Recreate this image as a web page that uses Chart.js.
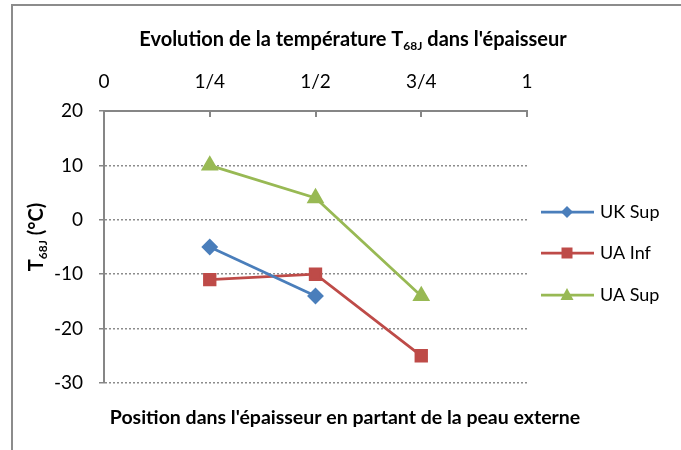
<!DOCTYPE html>
<html>
<head>
<meta charset="utf-8">
<script src="https://cdn.jsdelivr.net/npm/chart.js@4"></script>
<style>
  html, body { margin: 0; padding: 0; background: #fff; }
  #wrap { width: 681px; height: 450px; }
</style>
</head>
<body>
<div id="wrap"><canvas id="tempChart" width="681" height="450"></canvas></div>
<script>
const xTickLabels = ["0", "1/4", "1/2", "3/4", "1"];
const positions = [0.25, 0.5, 0.75];

const seriesNames = ["UK Sup", "UA Inf", "UA Sup"];
const ukSup = [-5, -14, null];
const uaInf = [-11, -10, -25];
const uaSup = [10, 4, -14];

const yTicks = [-30, -20, -10, 0, 10, 20];

const FONT = "Lato, 'Open Sans', sans-serif";

function toPoints(values) {
    const pts = [];
    values.forEach(function (v, i) {
        if (v !== null) pts.push({ x: positions[i], y: v });
    });
    return pts;
}

// text with a subscript part: [["T", false], ["68J", true], ...]
function drawRich(ctx, parts, x, y, size, align) {
    const subSize = Math.round(size * 0.6);
    let total = 0;
    parts.forEach(function (p) {
        ctx.font = "bold " + (p[1] ? subSize : size) + "px " + FONT;
        total += ctx.measureText(p[0]).width;
    });
    let cx = align === "center" ? x - total / 2 : x;
    ctx.textBaseline = "alphabetic";
    ctx.textAlign = "left";
    parts.forEach(function (p) {
        ctx.font = "bold " + (p[1] ? subSize : size) + "px " + FONT;
        ctx.fillText(p[0], cx, p[1] ? y + size * 0.22 : y);
        cx += ctx.measureText(p[0]).width;
    });
}

const decorPlugin = {
    id: "decor",
    afterDraw(chart) {
        const ctx = chart.ctx;
        const area = chart.chartArea;
        const xs = chart.scales.x;
        ctx.save();

        // outer frame (top + left)
        ctx.strokeStyle = "#8c8c8c";
        ctx.lineWidth = 2;
        ctx.beginPath();
        ctx.moveTo(12, 451);
        ctx.lineTo(12, 5);
        ctx.lineTo(681, 5);
        ctx.stroke();

        // inner tick marks on top axis
        ctx.strokeStyle = "#868686";
        ctx.lineWidth = 2;
        xTickLabels.forEach(function (lab, i) {
            const px = Math.round(xs.getPixelForValue(i * 0.25));
            ctx.beginPath();
            ctx.moveTo(px, area.top);
            ctx.lineTo(px, area.top + 6);
            ctx.stroke();
        });

        ctx.fillStyle = "#000";
        // title
        drawRich(ctx, [["Evolution de la température T", false], ["68J", true], [" dans l'épaisseur", false]], 353, 46, 20, "center");

        // x axis title
        ctx.font = "bold 19.5px " + FONT;
        ctx.textAlign = "center";
        ctx.textBaseline = "middle";
        ctx.fillText("Position dans l'épaisseur en partant de la peau externe", 345, 418);

        // y axis title (rotated)
        ctx.save();
        ctx.translate(43, 237);
        ctx.rotate(-Math.PI / 2);
        drawRich(ctx, [["T", false], ["68J", true], [" (°C)", false]], 0, 0, 20, "center");
        ctx.restore();

        // legend
        const rows = [212, 253, 295];
        chart.data.datasets.forEach(function (ds, i) {
            const y = rows[i];
            ctx.strokeStyle = ds.borderColor;
            ctx.lineWidth = 2.75;
            ctx.beginPath();
            ctx.moveTo(541, y);
            ctx.lineTo(594, y);
            ctx.stroke();
            ctx.fillStyle = ds.backgroundColor;
            const cx = 567;
            ctx.beginPath();
            if (ds.pointStyle === "rectRot") {
                ctx.moveTo(cx, y - 6); ctx.lineTo(cx + 6, y); ctx.lineTo(cx, y + 6); ctx.lineTo(cx - 6, y);
            } else if (ds.pointStyle === "rect") {
                ctx.rect(cx - 5.5, y - 5.5, 11, 11);
            } else {
                ctx.moveTo(cx, y - 7); ctx.lineTo(cx + 6.5, y + 5); ctx.lineTo(cx - 6.5, y + 5);
            }
            ctx.closePath();
            ctx.fill();
            ctx.fillStyle = "#000";
            ctx.font = "18px " + FONT;
            ctx.textAlign = "left";
            ctx.textBaseline = "middle";
            ctx.fillText(ds.label, 600, y);
        });

        ctx.restore();
    }
};

const ctx =
document.getElementById(
    "tempChart"
);

const tempChart =
new Chart(ctx, {

    type: "line",

    data: {

        datasets: [{
            label: seriesNames[0],
            data: toPoints(ukSup),
            borderColor: "#4a7ebb",
            backgroundColor: "#4a7ebb",
            pointStyle: "rectRot",
            pointRadius: 6.5,
            borderWidth: 2.75
        }, {
            label: seriesNames[1],
            data: toPoints(uaInf),
            borderColor: "#be4b48",
            backgroundColor: "#be4b48",
            pointStyle: "rect",
            pointRadius: 7.5,
            borderWidth: 2.75
        }, {
            label: seriesNames[2],
            data: toPoints(uaSup),
            borderColor: "#98b954",
            backgroundColor: "#98b954",
            pointStyle: "triangle",
            pointRadius: 7.5,
            borderWidth: 2.75
        }]
    },

    options: {

        responsive: false,
        animation: false,
        layout: {
            padding: { left: 0, right: 154, top: 0, bottom: 67 }
        },
        plugins: {
            legend: { display: false },
            title: { display: false },
            tooltip: { enabled: false }
        },
        elements: {
            point: { borderWidth: 0, hoverRadius: 7 },
            line: { tension: 0 }
        },
        scales: {
            x: {
                type: "linear",
                position: "top",
                min: 0,
                max: 1,
                afterFit(scale) { scale.height = 111; },
                afterBuildTicks(scale) {
                    scale.ticks = xTickLabels.map(function (l, i) { return { value: i * 0.25 }; });
                },
                ticks: {
                    callback: function (v) { return xTickLabels[Math.round(v * 4)]; },
                    color: "#000",
                    font: { size: 19, family: FONT },
                    padding: 18,
                    maxRotation: 0
                },
                grid: { display: false, drawTicks: false },
                border: { display: true, color: "#868686", width: 2 }
            },
            y: {
                min: -30,
                max: 20,
                afterFit(scale) { scale.width = 104; },
                afterBuildTicks(scale) {
                    scale.ticks = yTicks.map(function (v) { return { value: v }; });
                },
                ticks: {
                    color: "#000",
                    font: { size: 19, family: FONT },
                    padding: 16
                },
                grid: {
                    color: "#8c8c8c",
                    lineWidth: 1.5,
                    tickLength: 5,
                    tickBorderDash: [],
                    tickColor: "#868686"
                },
                border: { display: true, color: "#868686", width: 2, dash: [] }
            }
        }
    },

    plugins: [decorPlugin]

});

// dotted horizontal gridlines
tempChart.options.scales.y.grid.borderDash = [2, 2];
tempChart.options.scales.y.border.dash = [2, 2];
tempChart.update();
</script>
</body>
</html>
